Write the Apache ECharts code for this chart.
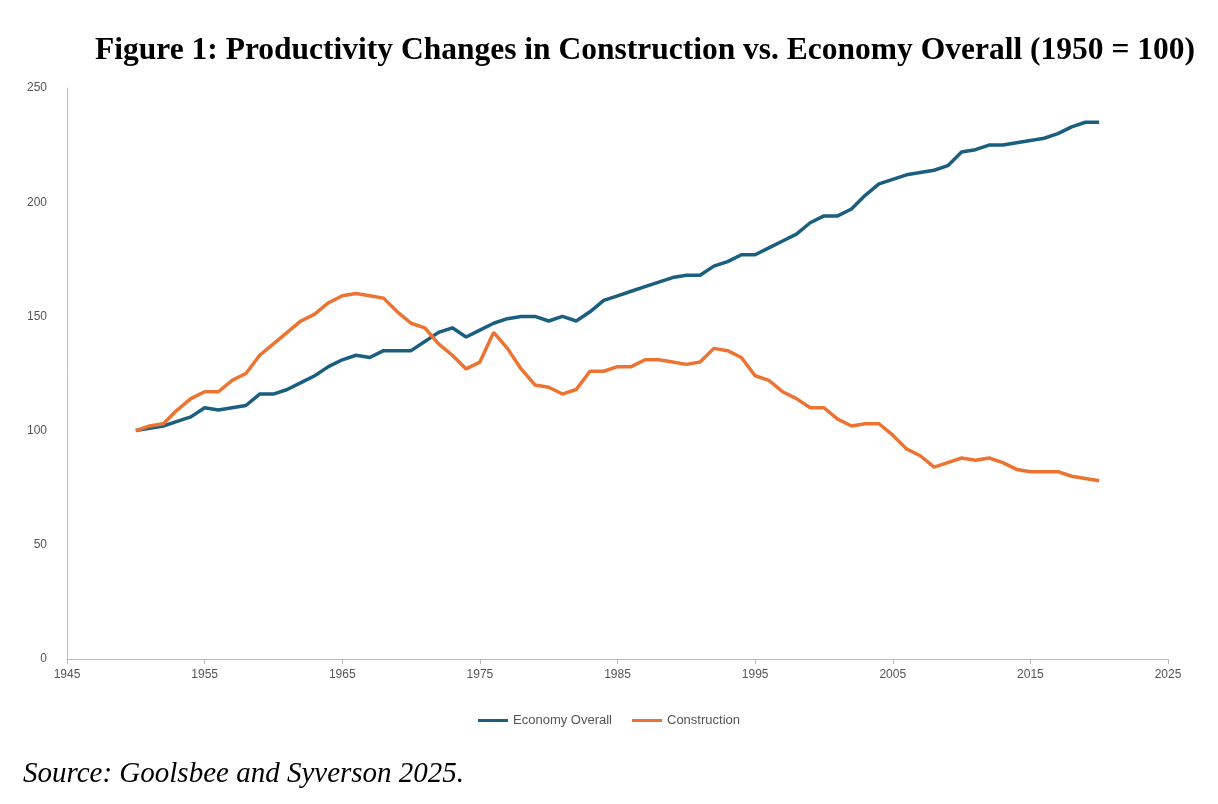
<!DOCTYPE html>
<html><head><meta charset="utf-8">
<script src="https://cdn.jsdelivr.net/npm/echarts@6/dist/echarts.min.js"></script>
<style>body{margin:0;background:#fff}#c{width:1218px;height:804px}</style></head>
<body><div id="c"></div>
<script>
const years = Array.from({length:71},(_, i)=>1950+i);
const economy = [100,101,102,104,106,110,109,110,111,116,116,118,121,124,128,131,133,132,135,135,135,139,143,145,141,144,147,149,150,150,148,150,148,152,157,159,161,163,165,167,168,168,172,174,177,177,180,183,186,191,194,194,197,203,208,210,212,213,214,216,222,223,225,225,226,227,228,230,233,235,235];
const construction = [100,102,103,109,114,117,117,122,125,133,138,143,148,151,156,159,160,159,158,152,147,145,138,133,127,130,143,136,127,120,119,116,118,126,126,128,128,131,131,130,129,130,136,135,132,124,122,117,114,110,110,105,102,103,103,98,92,89,84,86,88,87,88,86,83,82,82,82,80,79,78];
const chart = echarts.init(document.getElementById('c'));
chart.setOption({
  animation:false,
  title:[{text:'Figure 1: Productivity Changes in Construction vs. Economy Overall (1950 = 100)',left:640,top:30,textAlign:'center',
    textStyle:{fontFamily:'Liberation Serif',fontWeight:'bold',fontSize:31.5,color:'#000'}},
    {text:'Source: Goolsbee and Syverson 2025.',left:18,top:755,textStyle:{fontFamily:'Liberation Serif',fontStyle:'italic',fontWeight:'normal',fontSize:29,color:'#000'}}],
  legend:{bottom:72,left:'center',itemWidth:30,itemHeight:3,icon:'rect',itemGap:20,textStyle:{fontFamily:'Liberation Sans',fontSize:13,color:'#555'}},
  grid:{left:67,right:50,top:88,bottom:145},
  xAxis:{type:'value',min:1945,max:2025,interval:10,
    axisLine:{lineStyle:{color:'#bbb'}},axisTick:{show:true,length:5,lineStyle:{color:'#bbb'}},splitLine:{show:false},
    axisLabel:{color:'#555',fontSize:12,margin:10,formatter:v=>String(v)}},
  yAxis:{type:'value',min:0,max:250,interval:50,
    axisLine:{show:true,lineStyle:{color:'#bbb'}},axisTick:{show:false},splitLine:{show:false},
    axisLabel:{color:'#555',fontSize:12,margin:20}},
  series:[
    {name:'Economy Overall',type:'line',data:years.map((y,i)=>[y,economy[i]]),showSymbol:false,lineStyle:{width:3.5,color:'#1a5f7f'},itemStyle:{color:'#1a5f7f'}},
    {name:'Construction',type:'line',data:years.map((y,i)=>[y,construction[i]]),showSymbol:false,lineStyle:{width:3.5,color:'#ec7432'},itemStyle:{color:'#ec7432'}}
  ]
});
</script></body></html>
